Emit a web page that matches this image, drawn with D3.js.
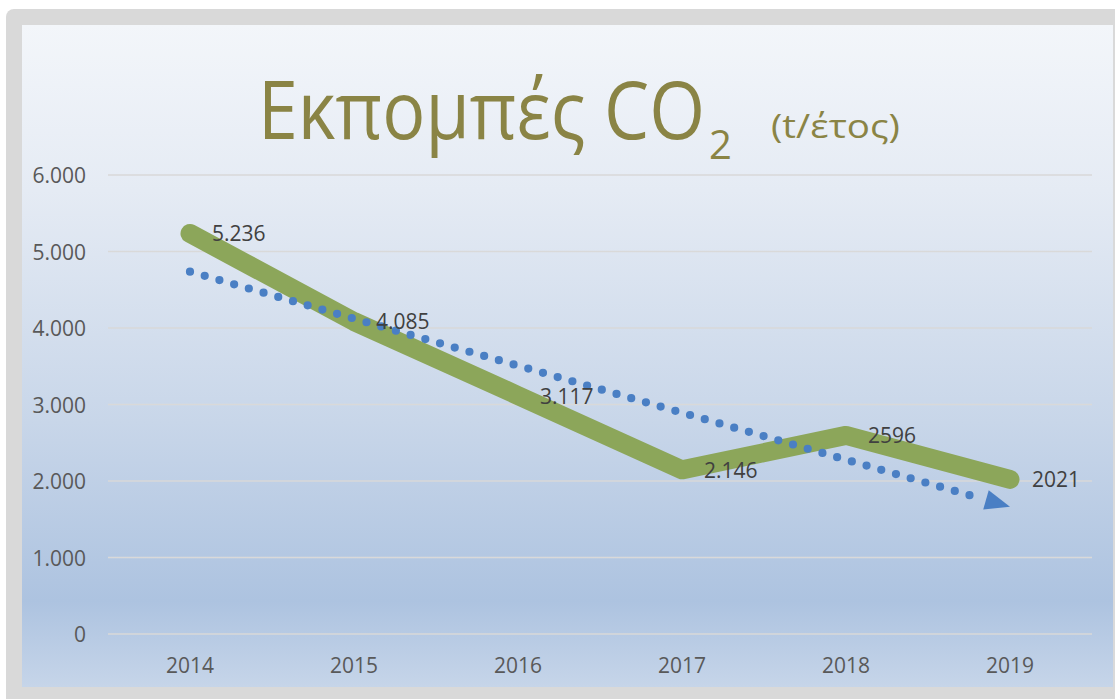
<!DOCTYPE html>
<html>
<head>
<meta charset="utf-8">
<script src="https://cdn.jsdelivr.net/npm/d3@7"></script>
<style>
  html, body { margin: 0; padding: 0; background: #ffffff; }
  svg { display: block; }
</style>
</head>
<body>
<svg id="chart" width="1115" height="699"></svg>
<script>
// ---- data ----
const years = ["2014", "2015", "2016", "2017", "2018", "2019"];
const emissions = [5236, 4085, 3117, 2146, 2596, 2021];
const dataLabels = ["5.236", "4.085", "3.117", "2.146", "2596", "2021"];
const yTicks = [0, 1000, 2000, 3000, 4000, 5000, 6000];
const titleMain = "Εκπομπές CO";
const titleSub = "2";
const titleUnit = "(t/έτος)";

// ---- setup ----
const svg = d3.select("#chart");
const W = 1115, H = 699;
const panel = { x: 22, y: 25, w: 1091, h: 662 };
const plot = { left: 108, right: 1092, top: 175, bottom: 634 };
const fontFam = "'Open Sans', 'Noto Sans', sans-serif";

const defs = svg.append("defs");
const grad = defs.append("linearGradient").attr("id", "bg")
  .attr("x1", 0).attr("y1", 0).attr("x2", 0).attr("y2", 1);
[[0, "#f3f6fa"], [0.25, "#e5ebf4"], [0.6, "#c8d6e9"], [0.87, "#adc3e0"], [1, "#c6d5e9"]]
  .forEach(([o, c]) => grad.append("stop").attr("offset", o).attr("stop-color", c));

// outer frame
svg.append("rect").attr("x", 6).attr("y", 9).attr("width", W - 6 + 10).attr("height", H - 9 + 10)
  .attr("rx", 8).attr("fill", "#d9d9d9");
// panel
svg.append("rect").attr("x", panel.x).attr("y", panel.y).attr("width", panel.w).attr("height", panel.h)
  .attr("fill", "url(#bg)");

// scales
const x = d3.scaleBand().domain(years).range([plot.left, plot.right]);
const y = d3.scaleLinear().domain([0, 6000]).range([plot.bottom, plot.top]);
const loc = d3.formatLocale({ decimal: ",", thousands: ".", grouping: [3], currency: ["", "€"] });
const fmt = loc.format(",d");

// gridlines
svg.append("g").selectAll("line").data(yTicks).join("line")
  .attr("x1", plot.left).attr("x2", plot.right)
  .attr("y1", d => y(d)).attr("y2", d => y(d))
  .attr("stroke", "#d9d9d9").attr("stroke-width", 1.5);

// y axis labels
const yAxis = svg.append("g").attr("transform", `translate(${plot.left - 22},0)`)
  .call(d3.axisLeft(y).tickValues(yTicks).tickFormat(fmt).tickSize(0).tickPadding(0));
yAxis.select(".domain").remove();
yAxis.selectAll("text").attr("font-family", fontFam).attr("font-size", 21)
  .attr("fill", "#595959").attr("dy", "0.36em");

// x axis labels
const xAxis = svg.append("g").attr("transform", `translate(0,${plot.bottom})`)
  .call(d3.axisBottom(x).tickSize(0).tickPadding(0));
xAxis.select(".domain").remove();
xAxis.selectAll("text").attr("font-family", fontFam).attr("font-size", 21)
  .attr("fill", "#595959").attr("dy", "0").attr("y", 39);

const cx = i => x(years[i]) + x.bandwidth() / 2;

// main line
const line = d3.line().x((d, i) => cx(i)).y(d => y(d));
svg.append("path").datum(emissions).attr("d", line)
  .attr("fill", "none").attr("stroke", "#8ca65a").attr("stroke-width", 19)
  .attr("stroke-linejoin", "round").attr("stroke-linecap", "round");

// linear trendline (least squares on the data)
const n = emissions.length;
const mx = d3.mean(d3.range(n)), my = d3.mean(emissions);
const slope = d3.sum(d3.range(n), i => (i - mx) * (emissions[i] - my)) /
              d3.sum(d3.range(n), i => (i - mx) ** 2);
const icpt = my - slope * mx;
const p0 = [cx(0), y(icpt)];
const p1 = [cx(n - 1), y(icpt + slope * (n - 1))];
const dx = p1[0] - p0[0], dy = p1[1] - p0[1];
const len = Math.hypot(dx, dy);
const ux = dx / len, uy = dy / len;
const arrowL = 25, arrowW = 20;
const base = [p1[0] - ux * arrowL, p1[1] - uy * arrowL];
svg.append("line")
  .attr("x1", p0[0]).attr("y1", p0[1]).attr("x2", base[0] - ux * 6).attr("y2", base[1] - uy * 6)
  .attr("stroke", "#4a7fc4").attr("stroke-width", 8.2)
  .attr("stroke-linecap", "round").attr("stroke-dasharray", "0 15.3");
svg.append("path")
  .attr("d", `M${p1[0]},${p1[1]} L${base[0] - uy * arrowW / 2},${base[1] + ux * arrowW / 2} L${base[0] + uy * arrowW / 2},${base[1] - ux * arrowW / 2} Z`)
  .attr("fill", "#4a7fc4");

// data labels
svg.append("g").selectAll("text").data(emissions).join("text")
  .attr("x", (d, i) => cx(i) + 22).attr("y", d => y(d) + 8)
  .attr("font-family", fontFam).attr("font-size", 21).attr("fill", "#404040")
  .text((d, i) => dataLabels[i]);

// title (single text element with tspans)
const tcol = "#8a8445";
const title = svg.append("text").attr("font-family", fontFam).attr("fill", tcol);
const ts1 = title.append("tspan").attr("x", 258).attr("y", 139).attr("font-size", 80).text(titleMain);
title.append("tspan").attr("x", 709).attr("y", 159).attr("font-size", 40).text(titleSub);
const ts3 = title.append("tspan").attr("x", 771).attr("y", 138).attr("font-size", 33).text(titleUnit);
const w1 = ts1.node().getComputedTextLength();
if (Math.abs(w1 - 447) > 4) ts1.attr("textLength", 447).attr("lengthAdjust", "spacingAndGlyphs");
const w3 = ts3.node().getComputedTextLength();
if (Math.abs(w3 - 129) > 3) ts3.attr("textLength", 129).attr("lengthAdjust", "spacingAndGlyphs");
</script>
</body>
</html>
